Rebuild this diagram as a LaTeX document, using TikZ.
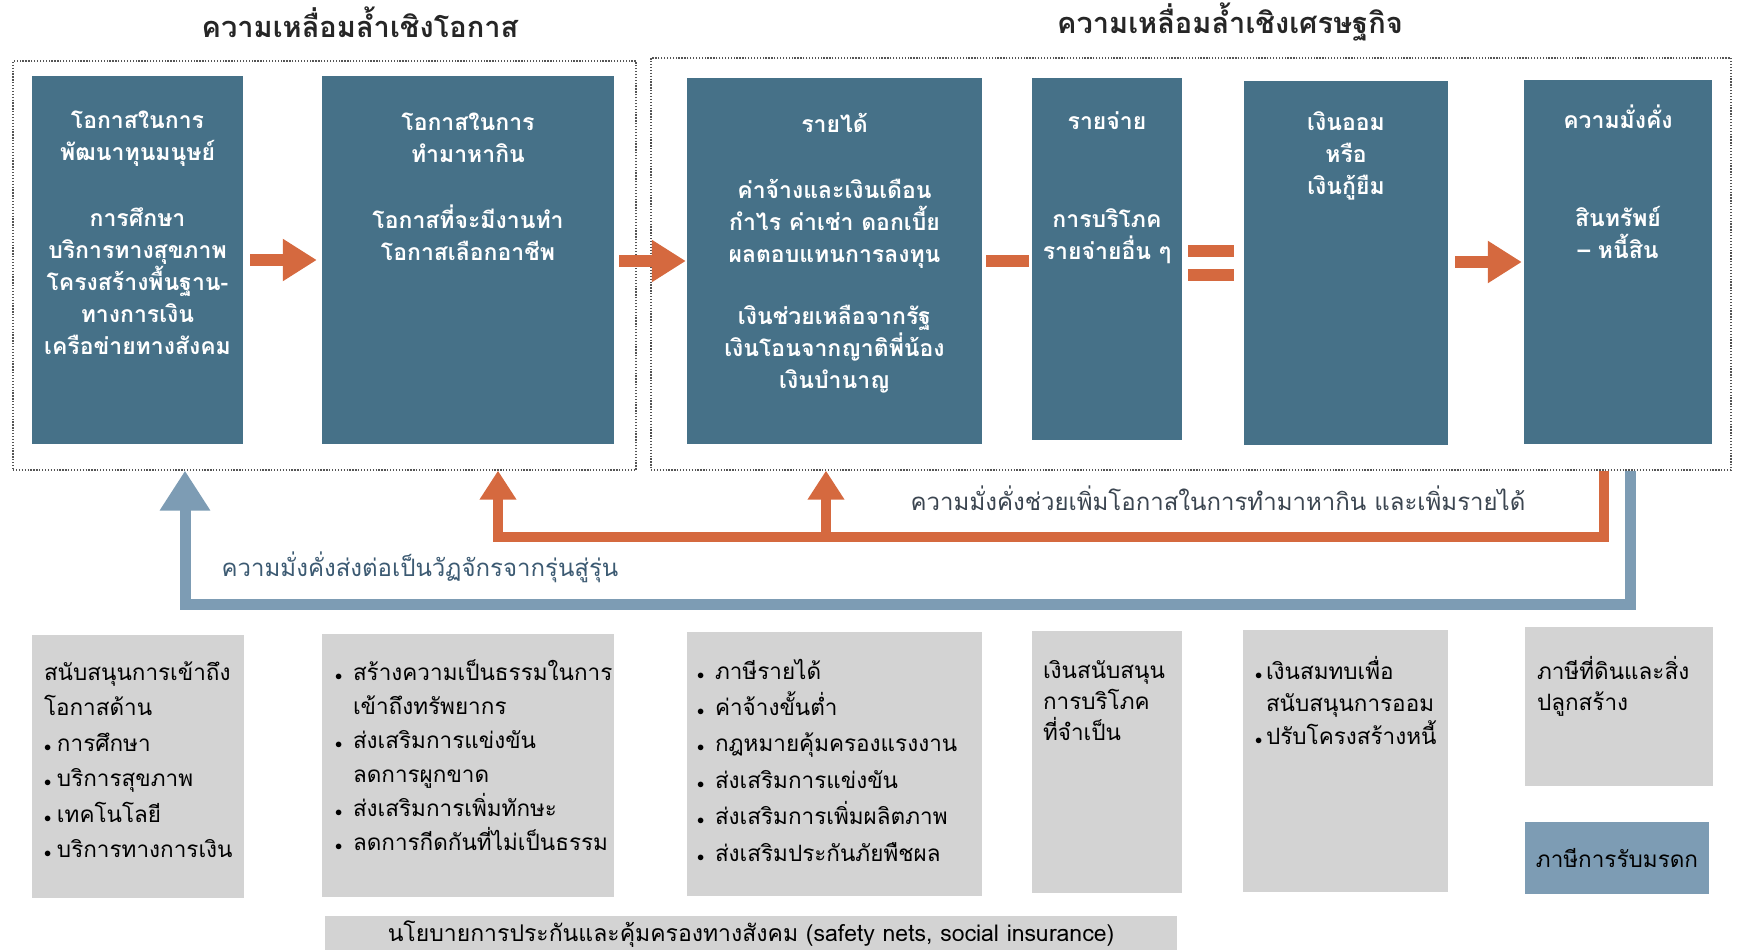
\documentclass[tikz,border=0pt]{standalone}
\usepackage{fontspec}
\usepackage{xcolor}
\newfontfamily\thaifont[Script=Thai]{Loma}
\usetikzlibrary{arrows.meta,positioning,calc}

\definecolor{boxteal}{HTML}{467188}
\definecolor{flowor}{HTML}{D5693F}
\definecolor{loopbl}{HTML}{7D9CB4}
\definecolor{polgray}{HTML}{D3D3D3}
\definecolor{labgray}{HTML}{3B4550}
\definecolor{labblue}{HTML}{3C5A72}
\definecolor{framegray}{HTML}{555555}

\newcommand{\lnstrut}{\rule{0pt}{24pt}}
\newcommand{\pbul}[1][18pt]{\makebox[#1][l]{$\scriptstyle\bullet$}}

\begin{document}
\begin{tikzpicture}[
    x=1pt, y=-1pt,
    >={Triangle[length=34pt,width=40pt]},
    mainbox/.style={fill=boxteal,inner sep=0pt},
    polbox/.style={fill=polgray,inner sep=0pt},
    groupframe/.style={draw=framegray,line width=1.3pt,dash pattern=on 1.3pt off 1.6pt,inner sep=0pt},
    headtxt/.style={text=black!85,inner sep=0pt,font=\thaifont\bfseries\fontsize{29}{34}\selectfont},
    boxtxt/.style={text=white,align=center,inner sep=0pt,font=\thaifont\bfseries\fontsize{23}{32}\selectfont},
    poltxt/.style={align=left,inner sep=0pt,font=\thaifont\fontsize{22.5}{35.5}\selectfont},
    poltight/.style={poltxt,font=\thaifont\fontsize{22.5}{31}\selectfont},
    flow/.style={->,draw=flowor,line width=12pt},
    flowbar/.style={draw=flowor,line width=12pt},
    backor/.style={draw=flowor,line width=10pt,line join=miter,-{Triangle[length=29pt,width=35pt]}},
    backbl/.style={draw=loopbl,line width=11pt,line join=miter,-{Triangle[length=40pt,width=48pt]}},
    looplab/.style={inner sep=0pt,font=\thaifont\fontsize{24}{28}\selectfont},
  ]
  \useasboundingbox (0,0) rectangle (1737,950);

  % --- group frames and headings ---
  \node[groupframe,minimum width=623pt,minimum height=409pt] (oppframe) at (324.5,265.5) {};
  \node[groupframe,minimum width=1080pt,minimum height=412pt] (ecoframe) at (1191,264) {};
  \node[headtxt] (opphead) at (360,22) {ความเหลื่อมล้ำเชิงโอกาส};
  \node[headtxt] (ecohead) at (1230,22) {ความเหลื่อมล้ำเชิงเศรษฐกิจ};

  % --- main chain: opportunity -> income -> spending -> saving -> wealth ---
  \node[mainbox,minimum width=211pt,minimum height=368pt] (hcap)   at (137.5,260) {};
  \node[mainbox,minimum width=292pt,minimum height=368pt] (earn)   at (468,260)   {};
  \node[mainbox,minimum width=295pt,minimum height=366pt] (income) at (834.5,261) {};
  \node[mainbox,minimum width=150pt,minimum height=362pt] (spend)  at (1107,259)  {};
  \node[mainbox,minimum width=204pt,minimum height=364pt] (save)   at (1346,263)  {};
  \node[mainbox,minimum width=188pt,minimum height=364pt] (wealth) at (1618,262)  {};

  \node[boxtxt,below=28pt of hcap.north] (hcaptxt)
    {\lnstrut โอกาสในการ\\พัฒนาทุนมนุษย์\\[34pt]การศึกษา\\บริการทางสุขภาพ\\โครงสร้างพื้นฐาน-\\ทางการเงิน\\เครือข่ายทางสังคม};
  \node[boxtxt,below=30pt of earn.north] (earntxt)
    {\lnstrut โอกาสในการ\\ทำมาหากิน\\[34pt]โอกาสที่จะมีงานทำ\\โอกาสเลือกอาชีพ};
  \node[boxtxt,below=30pt of income.north] (incometxt)
    {\lnstrut รายได้\\[34pt]ค่าจ้างและเงินเดือน\\กำไร ค่าเช่า ดอกเบี้ย\\ผลตอบแทนการลงทุน\\[30pt]เงินช่วยเหลือจากรัฐ\\เงินโอนจากญาติพี่น้อง\\เงินบำนาญ};
  \node[boxtxt,below=27pt of spend.north] (spendtxt)
    {\lnstrut รายจ่าย\\[66pt]การบริโภค\\รายจ่ายอื่น ๆ};
  \node[boxtxt,below=25pt of save.north] (savetxt)
    {\lnstrut เงินออม\\หรือ\\เงินกู้ยืม};
  \node[boxtxt,below=24pt of wealth.north] (wealthtxt)
    {\lnstrut ความมั่งคั่ง\\[66pt]สินทรัพย์\\– หนี้สิน};

  % --- operators between the boxes ---
  \draw[flow,shorten <=7pt,shorten >=5pt] (hcap.east) -- (hcap.east -| earn.west);
  \draw[flow,shorten <=5pt,shorten >=1pt] (earn.east |- income.west) -- (income.west);
  \draw[flowbar,shorten <=4pt,shorten >=3pt] (income.east) -- (income.east -| spend.west);
  \draw[flowbar,shorten <=6pt,shorten >=10pt] ($(save.west -| spend.east)+(0,-12)$) -- ($(save.west)+(0,-12)$);
  \draw[flowbar,shorten <=6pt,shorten >=10pt] ($(save.west -| spend.east)+(0,12)$) -- ($(save.west)+(0,12)$);
  \draw[flow,shorten <=7pt,shorten >=2pt] (save.east |- wealth.west) -- (wealth.west);

  % --- feedback loops from wealth ---
  \coordinate (orrt)  at (1604,0);
  \coordinate (orlt)  at (498,0);
  \coordinate (ormid) at (826,0);
  \coordinate (orlev) at (0,537);
  \coordinate (blrt)  at (1630,0);
  \coordinate (bllt)  at (185,0);
  \coordinate (bllev) at (0,604);

  \draw[backbl] (blrt |- ecoframe.south) -- (blrt |- bllev) -| (bllt |- oppframe.south);
  \draw[backor] (orrt |- ecoframe.south) -- (orrt |- orlev) -| (orlt |- oppframe.south);
  \draw[backor] (ormid |- orlev) -- (ormid |- ecoframe.south);

  \node[looplab,text=labgray] (boostlab) at (1218,498) {ความมั่งคั่งช่วยเพิ่มโอกาสในการทำมาหากิน และเพิ่มรายได้};
  \node[looplab,text=labblue] (heirlab)  at (420,567)  {ความมั่งคั่งส่งต่อเป็นวัฏจักรจากรุ่นสู่รุ่น};

  % --- policy boxes ---
  \node[polbox,minimum width=212pt,minimum height=263pt] (polA) at (138,766.5) {};
  \node[polbox,minimum width=292pt,minimum height=263pt] (polB) at (468,765.5) {};
  \node[polbox,minimum width=295pt,minimum height=264pt] (polC) at (834.5,764) {};
  \node[polbox,minimum width=150pt,minimum height=262pt] (polD) at (1107,762)  {};
  \node[polbox,minimum width=205pt,minimum height=262pt] (polE) at (1345.5,761) {};
  \node[polbox,minimum width=188pt,minimum height=159pt] (polF) at (1619,706.5) {};
  \node[polbox,fill=loopbl,minimum width=184pt,minimum height=72pt,
        font=\thaifont\fontsize{22.5}{26}\selectfont] (inherit) at (1617,858) {ภาษีการรับมรดก};
  \node[polbox,minimum width=852pt,minimum height=36pt,
        font=\thaifont\fontsize{23}{26}\selectfont] (safety) at (751,934)
        {นโยบายการประกันและคุ้มครองทางสังคม (safety nets, social insurance)};

  \node[poltxt,below right=21pt and 12pt of polA.north west] (polAtxt)
    {\lnstrut สนับสนุนการเข้าถึง\\โอกาสด้าน\\\pbul[13pt]การศึกษา\\\pbul[13pt]บริการสุขภาพ\\\pbul[13pt]เทคโนโลยี\\\pbul[13pt]บริการทางการเงิน};
  \node[poltxt,font=\thaifont\fontsize{22.5}{34}\selectfont,below right=22pt and 13pt of polB.north west] (polBtxt)
    {\lnstrut\pbul สร้างความเป็นธรรมในการ\\\hspace*{18pt}เข้าถึงทรัพยากร\\\pbul ส่งเสริมการแข่งขัน\\\hspace*{18pt}ลดการผูกขาด\\\pbul ส่งเสริมการเพิ่มทักษะ\\\pbul ลดการกีดกันที่ไม่เป็นธรรม};
  \node[poltxt,font=\thaifont\fontsize{22.5}{36.4}\selectfont,below right=23pt and 10pt of polC.north west] (polCtxt)
    {\lnstrut\pbul ภาษีรายได้\\\pbul ค่าจ้างขั้นต่ำ\\\pbul กฎหมายคุ้มครองแรงงาน\\\pbul ส่งเสริมการแข่งขัน\\\pbul ส่งเสริมการเพิ่มผลิตภาพ\\\pbul ส่งเสริมประกันภัยพืชผล};
  \node[poltight,below right=23pt and 11pt of polD.north west] (polDtxt)
    {\lnstrut เงินสนับสนุน\\การบริโภค\\ที่จำเป็น};
  \node[poltight,font=\thaifont\fontsize{22.5}{32.5}\selectfont,below right=25pt and 12pt of polE.north west] (polEtxt)
    {\lnstrut\pbul[11pt]เงินสมทบเพื่อ\\\hspace*{11pt}สนับสนุนการออม\\\pbul[11pt]ปรับโครงสร้างหนี้};
  \node[poltight,below right=28pt and 12pt of polF.north west] (polFtxt)
    {\lnstrut ภาษีที่ดินและสิ่ง\\ปลูกสร้าง};

\end{tikzpicture}
\end{document}
